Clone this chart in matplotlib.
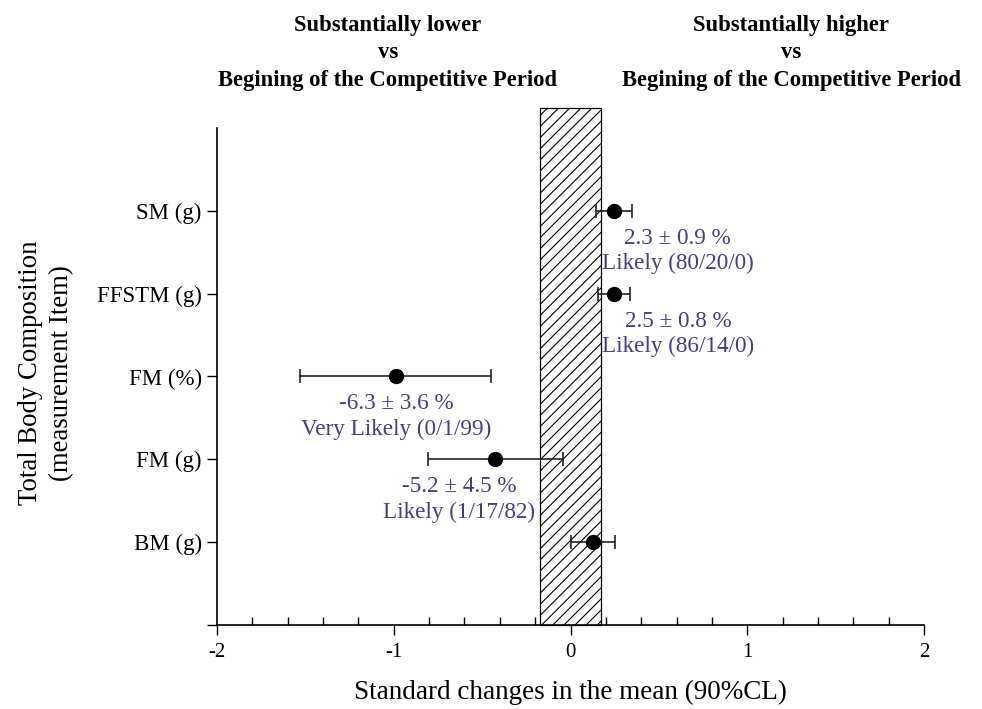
import matplotlib
matplotlib.use("Agg")
import matplotlib.pyplot as plt
from matplotlib.patches import Rectangle
from matplotlib.ticker import MultipleLocator
import numpy as np

plt.rcParams['font.family'] = ['Liberation Serif', 'DejaVu Serif']
plt.rcParams['hatch.linewidth'] = 0.8

# data, top to bottom
items = ["SM (g)", "FFSTM (g)", "FM (%)", "FM (g)", "BM (g)"]
effect = [0.245, 0.245, -0.99, -0.425, 0.125]
ci_half = [0.10, 0.09, 0.54, 0.38, 0.125]
pct_text = ["2.3 \u00b1 0.9 %", "2.5 \u00b1 0.8 %", "-6.3 \u00b1 3.6 %", "-5.2 \u00b1 4.5 %", ""]
inference = ["Likely (80/20/0)", "Likely (86/14/0)", "Very Likely (0/1/99)", "Likely (1/17/82)", ""]
label_dx = [64, 64, 1, -36, 0]   # pixel shift of annotation from the dot
trivial = 0.17                    # smallest worthwhile change (+/-)

text_col = "#463c84"

fig = plt.figure(figsize=(9.82, 7.09), dpi=100)
ax = fig.add_axes([0.221, 0.1185, 0.720, 0.701])

ypos = np.arange(len(items), 0, -1)

ax.add_patch(Rectangle((-trivial, 0), 2 * trivial, 6.24, facecolor="white",
                       edgecolor="black", linewidth=0.9, hatch="///",
                       clip_on=False, zorder=1))

ax.errorbar(effect, ypos, xerr=ci_half, fmt="o", color="black", ms=10,
            ecolor="#222222", elinewidth=1.2, capsize=5, capthick=1.2, zorder=3)

for x, y, t1, t2, dx in zip(effect, ypos, pct_text, inference, label_dx):
    if not t1:
        continue
    ax.annotate(t1 + "\n" + t2, xy=(x, y), xytext=(dx, -17),
                textcoords="offset pixels", ha="center", va="top",
                fontsize=16.7, color=text_col, linespacing=1.27)

ax.set_xlim(-2, 2)
ax.set_ylim(0, 6)
ax.set_yticks([0] + list(ypos))
ax.set_yticklabels([""] + items, fontsize=16.5)
ax.set_xticks([-2, -1, 0, 1, 2])
ax.set_xticklabels(["-2", "-1", "0", "1", "2"], fontsize=15)
ax.xaxis.set_minor_locator(MultipleLocator(0.2))
ax.tick_params(axis="x", which="major", direction="out", length=7, width=1, pad=6)
ax.tick_params(axis="x", which="minor", direction="in", length=6, width=1)
ax.tick_params(axis="y", direction="out", length=7, width=1, pad=4)

for s in ["top", "right"]:
    ax.spines[s].set_visible(False)
for s in ["left", "bottom"]:
    ax.spines[s].set_linewidth(1.2)

ax.set_xlabel("Standard changes in the mean (90%CL)", fontsize=19.5, labelpad=13)
fig.text(46 / 982, 1 - 373 / 709, "Total Body Composition\n(measurement Item)",
         rotation=90, ha="center", va="center", fontsize=19.3, linespacing=1.3)

fig.text(0.395, 0.979, "Substantially lower\nvs\nBegining of the Competitive Period",
         ha="center", va="top", fontsize=16.3, fontweight="bold", linespacing=1.4)
fig.text(0.806, 0.979, "Substantially higher\nvs\nBegining of the Competitive Period",
         ha="center", va="top", fontsize=16.3, fontweight="bold", linespacing=1.4)

fig.savefig("out.png", dpi=100)
